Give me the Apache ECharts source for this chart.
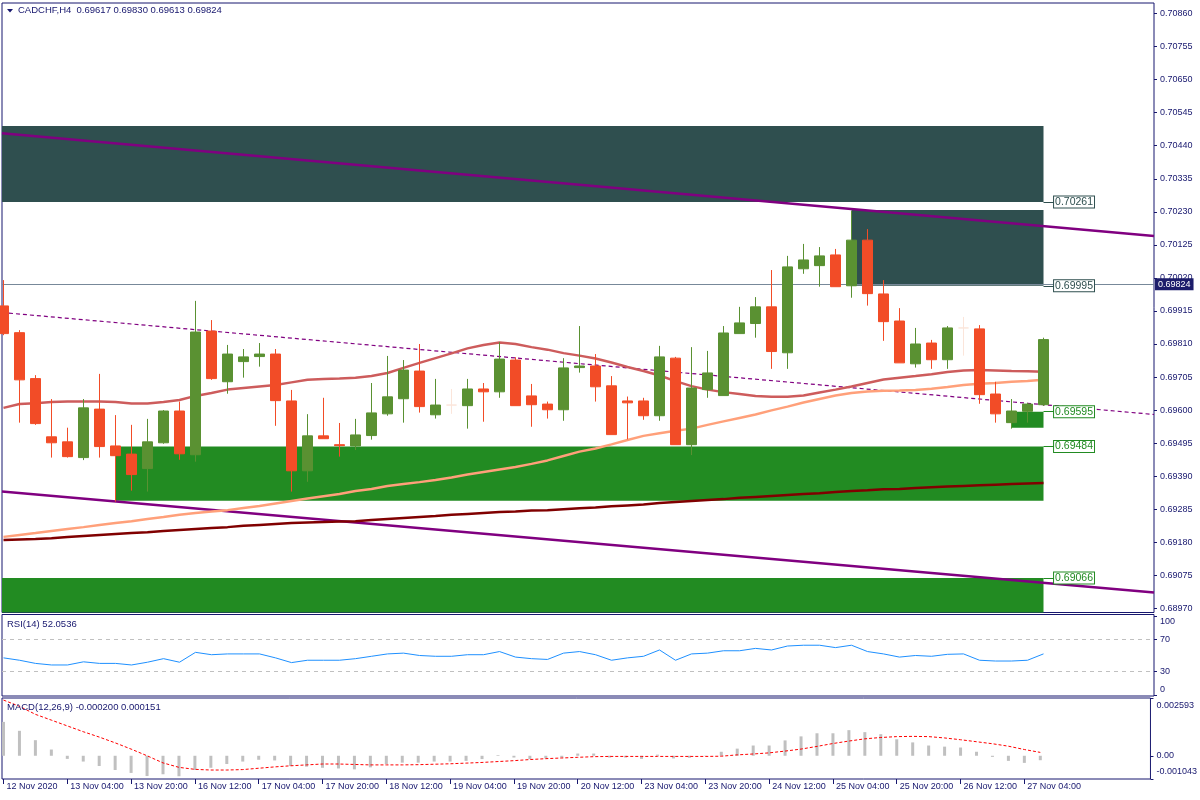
<!DOCTYPE html>
<html><head><meta charset="utf-8">
<script src="https://cdn.jsdelivr.net/npm/echarts@6/dist/echarts.min.js"></script>
<style>html,body{margin:0;padding:0;background:#fff}#c{width:1200px;height:800px}</style>
</head><body><div id="c"></div>
<script>
// ---------------- DATA ----------------
const symbolTitle = 'CADCHF,H4';
const lastQuote = [0.69617, 0.69830, 0.69613, 0.69824]; // O H L C of last bar
const bidPrice = 0.69824;

const opens = [0.69931,0.69846,0.69700,0.69515,0.69499,0.69449,0.69603,0.69486,0.69460,0.69414,
0.69496,0.69597,0.69458,0.69851,0.69690,0.69754,0.69770,0.69778,0.69629,0.69407,
0.69518,0.69490,0.69486,0.69519,0.69588,0.69636,0.69724,0.69585,0.69616,0.69614,
0.69667,0.69658,0.69759,0.69645,0.69619,0.69601,0.69735,0.69740,0.69677,0.69629,
0.69629,0.69582,0.69765,0.69490,0.69665,0.69646,0.69843,0.69875,0.69928,0.69782,
0.70049,0.70059,0.70093,0.69995,0.70140,0.69969,0.69883,0.69747,0.69813,0.69760,
0.69861,0.69858,0.69651,0.69560,0.69596,0.69617];
const closes = [0.69843,0.69696,0.69557,0.69496,0.69452,0.69607,0.69484,0.69455,0.69395,0.69499,
0.69597,0.69461,0.69848,0.69700,0.69778,0.69769,0.69778,0.69630,0.69407,0.69518,
0.69509,0.69487,0.69521,0.69591,0.69642,0.69727,0.69611,0.69616,0.69616,0.69667,
0.69658,0.69762,0.69614,0.69617,0.69601,0.69734,0.69740,0.69674,0.69522,0.69623,
0.69582,0.69769,0.69490,0.69670,0.69718,0.69845,0.69877,0.69928,0.69786,0.70055,
0.70077,0.70090,0.69992,0.70140,0.69970,0.69881,0.69750,0.69810,0.69760,0.69861,
0.69861,0.69649,0.69588,0.69597,0.69619,0.69824];
const highs = [0.70013,0.69854,0.69711,0.69635,0.69544,0.69635,0.69715,0.69584,0.69553,0.69572,
0.69600,0.69627,0.69947,0.69886,0.69807,0.69794,0.69813,0.69794,0.69664,0.69587,
0.69639,0.69559,0.69572,0.69686,0.69772,0.69759,0.69810,0.69699,0.69667,0.69699,
0.69686,0.69816,0.69768,0.69683,0.69627,0.69765,0.69867,0.69778,0.69708,0.69643,
0.69639,0.69804,0.69769,0.69800,0.69788,0.69867,0.69928,0.69959,0.70045,0.70090,
0.70128,0.70118,0.70112,0.70233,0.70175,0.70013,0.69924,0.69861,0.69823,0.69867,
0.69896,0.69870,0.69690,0.69635,0.69623,0.69830];
const lows = [0.69838,0.69560,0.69553,0.69449,0.69449,0.69441,0.69449,0.69309,0.69344,0.69341,
0.69493,0.69442,0.69436,0.69696,0.69652,0.69703,0.69738,0.69550,0.69341,0.69372,
0.69509,0.69452,0.69473,0.69506,0.69582,0.69560,0.69592,0.69573,0.69588,0.69541,
0.69563,0.69639,0.69614,0.69547,0.69573,0.69566,0.69719,0.69627,0.69522,0.69507,
0.69569,0.69566,0.69490,0.69457,0.69639,0.69646,0.69843,0.69830,0.69731,0.69731,
0.70033,0.69992,0.69992,0.69957,0.69932,0.69820,0.69750,0.69735,0.69731,0.69731,
0.69773,0.69620,0.69560,0.69541,0.69560,0.69613];

const maFast = [0.69607,0.69619,0.69622,0.69626,0.69627,0.69627,0.69627,0.69626,0.69621,0.69621,
0.69626,0.69632,0.69645,0.69654,0.69665,0.69670,0.69675,0.69680,0.69688,0.69696,
0.69699,0.69700,0.69703,0.69708,0.69718,0.69734,0.69750,0.69765,0.69780,0.69796,
0.69807,0.69815,0.69810,0.69800,0.69792,0.69781,0.69773,0.69764,0.69751,0.69737,
0.69724,0.69710,0.69692,0.69676,0.69665,0.69657,0.69651,0.69645,0.69642,0.69642,
0.69646,0.69656,0.69665,0.69675,0.69686,0.69697,0.69703,0.69708,0.69714,0.69721,
0.69726,0.69727,0.69726,0.69724,0.69723,0.69722];
const maMid = [0.69197,0.69203,0.69209,0.69216,0.69222,0.69228,0.69235,0.69241,0.69247,0.69254,
0.69260,0.69267,0.69273,0.69278,0.69282,0.69289,0.69295,0.69303,0.69311,0.69319,
0.69326,0.69333,0.69343,0.69349,0.69359,0.69365,0.69371,0.69378,0.69386,0.69395,
0.69403,0.69411,0.69419,0.69429,0.69440,0.69454,0.69468,0.69478,0.69491,0.69505,
0.69518,0.69526,0.69534,0.69541,0.69553,0.69564,0.69575,0.69586,0.69599,0.69611,
0.69624,0.69635,0.69646,0.69654,0.69659,0.69661,0.69662,0.69664,0.69668,0.69673,
0.69680,0.69684,0.69686,0.69690,0.69692,0.69696];
const maSlow = [0.69187,0.69189,0.69190,0.69193,0.69197,0.69200,0.69203,0.69206,0.69209,0.69212,
0.69216,0.69219,0.69222,0.69225,0.69228,0.69232,0.69235,0.69238,0.69241,0.69243,
0.69244,0.69246,0.69247,0.69251,0.69254,0.69257,0.69260,0.69263,0.69267,0.69270,
0.69273,0.69276,0.69278,0.69281,0.69282,0.69285,0.69288,0.69290,0.69294,0.69297,
0.69300,0.69305,0.69308,0.69311,0.69314,0.69317,0.69321,0.69324,0.69327,0.69330,
0.69333,0.69336,0.69340,0.69343,0.69345,0.69348,0.69349,0.69352,0.69355,0.69357,
0.69359,0.69361,0.69363,0.69365,0.69367,0.69368];

const rsiValues = [47,44,40,38,38,42,40,40,38,41.5,
46,41.5,54,51,52,52,52,47,41,44,
44,44,46,49,52,53,50,49,49,51,
51,55,48,46,45,53,55,51,44,47,
49,57,44,52,53,56,56,59,57,62,
63,63,60,63,55,52,48,50,49,51.5,
52,44,43,43,44,52.0536];
const rsiTitleValue = '52.0536';

const macdMain = [0.00152,0.00112,0.00070,0.00028,-0.00014,-0.00026,-0.00046,-0.00064,-0.00077,-0.00091,
-0.00083,-0.00092,-0.00064,-0.00054,-0.00037,-0.00026,-0.00018,-0.00021,-0.00046,-0.00049,
-0.00054,-0.00057,-0.00061,-0.00052,-0.00037,-0.00031,-0.00031,-0.00026,-0.00026,-0.00023,
-0.00015,0.00003,-0.00008,-0.00015,-0.00012,-0.00008,0.00010,0.00010,-0.00008,-0.00008,
-0.00014,0.00005,-0.00012,-0.00009,0.00001,0.00018,0.00032,0.00046,0.00046,0.00069,
0.00087,0.00101,0.00101,0.00115,0.00106,0.00097,0.00074,0.00060,0.00046,0.00041,
0.00037,0.00018,-0.00005,-0.00023,-0.00032,-0.00020];
const macdSignal = [0.00250,0.00222,0.00186,0.00160,0.00134,0.00108,0.00084,0.00058,0.00030,0.00000,
-0.00032,-0.00052,-0.00061,-0.00064,-0.00064,-0.00062,-0.00056,-0.00050,-0.00045,-0.00041,
-0.00037,-0.00037,-0.00039,-0.00041,-0.00041,-0.00041,-0.00040,-0.00038,-0.00036,-0.00033,
-0.00030,-0.00026,-0.00022,-0.00017,-0.00013,-0.00010,-0.00007,-0.00004,-0.00003,-0.00003,
-0.00003,-0.00003,-0.00003,-0.00003,-0.00003,-0.00002,0.00004,0.00008,0.00013,0.00021,
0.00030,0.00042,0.00055,0.00066,0.00076,0.00082,0.00086,0.00087,0.00086,0.00080,
0.00072,0.00063,0.00054,0.00043,0.00028,0.000151];
const macdTitleValues = ['-0.000200', '0.000151'];

// trend lines: price at left edge and at right edge of the chart
const trendUpper = [0.70480, 0.70153];
const trendLower = [0.69341, 0.69020];
const trendDashed = [0.69910, 0.69586];

// zones (null start = from chart's left edge, null low = below chart)
const zoneFromBar = [null, 53, 7, null, 63];
const zoneToBar = [65, 65, 65, 65, 65];
const zoneHigh = [0.70503, 0.70236, 0.69484, 0.69066, 0.69595];
const zoneLow = [0.70261, 0.69995, 0.69312, null, 0.69544];
const zoneKind = ['supply', 'supply', 'demand', 'demand', 'demand'];
const zoneLabelPrice = [0.70261, 0.69995, 0.69484, 0.69066, 0.69595];

// axes ticks
const priceTicks = [0.68970,0.69075,0.69180,0.69285,0.69390,0.69495,0.69600,0.69705,0.69810,
0.69915,0.70020,0.70125,0.70230,0.70335,0.70440,0.70545,0.70650,0.70755,0.70860];
const rsiTicks = [0, 30, 70, 100];
const rsiLevels = [70, 30];
const macdTicks = [-0.001043, 0, 0.002593];
const timeTickIndex = [0,4,8,12,16,20,24,28,32,36,40,44,48,52,56,60,64];
const timeTickLabels = ['12 Nov 2020','13 Nov 04:00','13 Nov 20:00','16 Nov 12:00','17 Nov 04:00',
'17 Nov 20:00','18 Nov 12:00','19 Nov 04:00','19 Nov 20:00','20 Nov 12:00','23 Nov 04:00',
'23 Nov 20:00','24 Nov 12:00','25 Nov 04:00','25 Nov 20:00','26 Nov 12:00','27 Nov 04:00'];

// ---------------- LAYOUT / STYLE ----------------
const X_MIN = -0.09375, X_MAX = 71.90625;
const P_MIN = 0.689567, P_MAX = 0.708936;
const RSI_MIN = -1.27, RSI_MAX = 101.9;
const FONT = 'Liberation Sans';
const NAVY = '#17176e';
const BULL = '#5a9132', BEAR = '#f24c27', DOJI = '#fbe5da';
const SLATE = '#2f4f4f', GREEN = '#228b22', PURPLE = '#800080';

const candleData = opens.map((o, i) => {
  const item = { value: [i, o, closes[i], lows[i], highs[i]] };
  if (o === closes[i]) item.itemStyle = { color: DOJI, color0: DOJI, borderColor: DOJI, borderColor0: DOJI, borderColorDoji: DOJI };
  return item;
});
const pairs = arr => arr.map((v, i) => [i, v]);

const zoneAreas = zoneHigh.map((h, k) => [
  { coord: [zoneFromBar[k] == null ? X_MIN : zoneFromBar[k], h],
    itemStyle: { color: zoneKind[k] === 'supply' ? SLATE : GREEN, opacity: 1 } },
  { coord: [zoneToBar[k], zoneLow[k] == null ? P_MIN : zoneLow[k]] }
]);
const zoneLabels = zoneLabelPrice.map((p, k) => {
  const c = zoneKind[k] === 'supply' ? SLATE : GREEN;
  return [
    { coord: [zoneToBar[k], p], lineStyle: { color: c, width: 1, type: 'solid' },
      label: { show: true, position: 'end', distance: 0, formatter: p.toFixed(5), color: c,
        backgroundColor: '#fff', borderColor: c, borderWidth: 1, padding: [1, 1, 0, 1],
        fontFamily: FONT, fontSize: 10.5, lineHeight: 10 } },
    { coord: [zoneToBar[k] + 0.66, p] }
  ];
});

const axisLbl = { fontFamily: FONT, fontSize: 9, color: NAVY };
const noLine = { show: false, onZero: false };

const option = {
  animation: false,
  backgroundColor: '#fff',
  title: [
    { text: symbolTitle + '  ' + lastQuote.map(v => v.toFixed(5)).join(' '), left: 18, top: 5, padding: 0,
      textStyle: { fontFamily: FONT, fontSize: 9.5, fontWeight: 'normal', color: NAVY } },
    { text: 'RSI(14) ' + rsiTitleValue, left: 7, top: 619, padding: 0,
      textStyle: { fontFamily: FONT, fontSize: 9.5, fontWeight: 'normal', color: NAVY } },
    { text: 'MACD(12,26,9) ' + macdTitleValues.join(' '), left: 7, top: 702, padding: 0,
      textStyle: { fontFamily: FONT, fontSize: 9.5, fontWeight: 'normal', color: NAVY } }
  ],
  graphic: [
    { type: 'polygon', shape: { points: [[7, 9], [13, 9], [10, 12.5]] }, style: { fill: NAVY }, silent: true }
  ],
  grid: [
    { left: 2, top: 3, width: 1152, height: 609.5, show: true, borderColor: NAVY, borderWidth: 1, backgroundColor: '#fff' },
    { left: 2, top: 614.5, width: 1152, height: 81.5, show: true, borderColor: NAVY, borderWidth: 1, backgroundColor: '#fff' },
    { left: 2, top: 698, width: 1152, height: 81, show: true, borderColor: NAVY, borderWidth: 1, backgroundColor: '#fff' }
  ],
  xAxis: [
    { type: 'value', gridIndex: 0, min: X_MIN, max: X_MAX, show: false },
    { type: 'value', gridIndex: 1, min: X_MIN, max: X_MAX, show: false },
    { type: 'value', gridIndex: 2, min: X_MIN, max: X_MAX, position: 'bottom',
      axisLine: noLine, splitLine: { show: false },
      axisTick: { show: true, customValues: timeTickIndex, length: 5, lineStyle: { color: NAVY } },
      axisLabel: Object.assign({ customValues: timeTickIndex, align: 'left', margin: 3, padding: [0, 0, 0, 3],
        formatter: v => { const k = timeTickIndex.indexOf(v); return k >= 0 ? timeTickLabels[k] : ''; } }, axisLbl) }
  ],
  yAxis: [
    { type: 'value', gridIndex: 0, position: 'right', min: P_MIN, max: P_MAX, scale: true,
      axisLine: noLine, splitLine: { show: false },
      axisTick: { show: true, customValues: priceTicks, length: 3, lineStyle: { color: NAVY } },
      axisLabel: Object.assign({ customValues: priceTicks, margin: 6, formatter: v => v.toFixed(5) }, axisLbl) },
    { type: 'value', gridIndex: 1, position: 'right', min: RSI_MIN, max: RSI_MAX,
      axisLine: noLine, splitLine: { show: false },
      axisTick: { show: true, customValues: rsiTicks, length: 3, lineStyle: { color: NAVY } },
      axisLabel: Object.assign({ customValues: rsiTicks, margin: 6,
        formatter: v => v === 100 ? '{t|100}' : (v === 0 ? '{b|0}' : String(v)),
        rich: { t: Object.assign({ padding: [11, 0, 0, 0] }, axisLbl), b: Object.assign({ padding: [0, 0, 11, 0] }, axisLbl) } }, axisLbl) },
    { type: 'value', gridIndex: 2, position: 'right', min: macdTicks[0], max: macdTicks[2],
      axisLine: noLine, splitLine: { show: false },
      axisTick: { show: true, customValues: macdTicks, length: 3, lineStyle: { color: NAVY } },
      axisLabel: Object.assign({ customValues: macdTicks, margin: 6,
        formatter: v => v === macdTicks[2] ? '{t|' + v.toFixed(6) + '}' : (v === macdTicks[0] ? '{b|' + v.toFixed(6) + '}' : '0.00'),
        rich: { t: Object.assign({ padding: [16, 0, 0, 0] }, axisLbl), b: Object.assign({ padding: [0, 0, 14, 0] }, axisLbl) } }, axisLbl) }
  ],
  series: [
    { name: 'zones', type: 'line', xAxisIndex: 0, yAxisIndex: 0, data: [], z: 1, silent: true,
      markArea: { silent: true, data: zoneAreas } },
    { name: 'trendUpper', type: 'line', xAxisIndex: 0, yAxisIndex: 0, z: 3, showSymbol: false, silent: true,
      data: [[X_MIN, trendUpper[0]], [X_MAX, trendUpper[1]]], lineStyle: { color: PURPLE, width: 2.5 } },
    { name: 'trendLower', type: 'line', xAxisIndex: 0, yAxisIndex: 0, z: 3, showSymbol: false, silent: true,
      data: [[X_MIN, trendLower[0]], [X_MAX, trendLower[1]]], lineStyle: { color: PURPLE, width: 2.5 } },
    { name: 'trendDashed', type: 'line', xAxisIndex: 0, yAxisIndex: 0, z: 3, showSymbol: false, silent: true,
      data: [[X_MIN, trendDashed[0]], [X_MAX, trendDashed[1]]], lineStyle: { color: PURPLE, width: 1.2, type: [4, 3] } },
    { name: 'maSlow', type: 'line', xAxisIndex: 0, yAxisIndex: 0, z: 4, showSymbol: false, silent: true,
      data: pairs(maSlow), lineStyle: { color: '#800000', width: 2.5 } },
    { name: 'maMid', type: 'line', xAxisIndex: 0, yAxisIndex: 0, z: 4, showSymbol: false, silent: true,
      data: pairs(maMid), lineStyle: { color: '#ffa07a', width: 2.5 } },
    { name: 'maFast', type: 'line', xAxisIndex: 0, yAxisIndex: 0, z: 4, showSymbol: false, silent: true,
      data: pairs(maFast), lineStyle: { color: '#cd5c5c', width: 2.5 } },
    { name: 'bid', type: 'line', xAxisIndex: 0, yAxisIndex: 0, data: [], z: 4, silent: true,
      markLine: { silent: true, symbol: ['none', 'none'],
        lineStyle: { color: '#778899', width: 1, type: 'solid' },
        label: { show: true, position: 'end', distance: 1, formatter: bidPrice.toFixed(5), color: '#fff',
          backgroundColor: '#1d1d6b', padding: [2, 3, 1, 3], fontFamily: FONT, fontSize: 9 },
        data: [{ yAxis: bidPrice }] } },
    { name: 'candles', type: 'candlestick', xAxisIndex: 0, yAxisIndex: 0, z: 5, silent: true,
      encode: { x: 0, y: [1, 2, 3, 4] }, barWidth: 10,
      itemStyle: { color: BULL, color0: BEAR, borderColor: BULL, borderColor0: BEAR, borderWidth: 1 },
      data: candleData },
    { name: 'zoneLabels', type: 'line', xAxisIndex: 0, yAxisIndex: 0, data: [], z: 6, silent: true,
      markLine: { silent: true, symbol: ['none', 'none'], data: zoneLabels } },
    { name: 'rsi', type: 'line', xAxisIndex: 1, yAxisIndex: 1, showSymbol: false, silent: true, z: 3,
      data: pairs(rsiValues), lineStyle: { color: '#1e90ff', width: 1 },
      markLine: { silent: true, symbol: ['none', 'none'], label: { show: false },
        lineStyle: { color: '#c0c0c0', width: 1, type: [4, 4] },
        data: rsiLevels.map(v => ({ yAxis: v })) } },
    { name: 'macd', type: 'bar', xAxisIndex: 2, yAxisIndex: 2, barWidth: 3, silent: true, z: 2,
      data: pairs(macdMain), itemStyle: { color: '#c0c0c0' } },
    { name: 'signal', type: 'line', xAxisIndex: 2, yAxisIndex: 2, showSymbol: false, silent: true, z: 3,
      data: pairs(macdSignal), lineStyle: { color: '#ff0000', width: 1, type: [3, 2] } }
  ]
};
const chart = echarts.init(document.getElementById('c'));
chart.setOption(option);
</script></body></html>
